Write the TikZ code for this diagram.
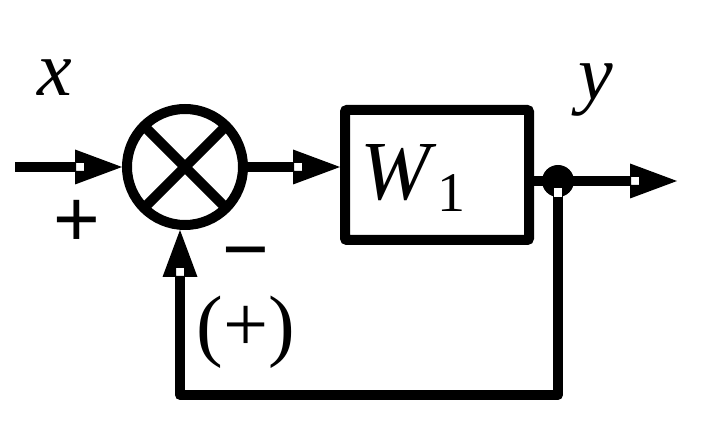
\documentclass[tikz,border=0pt]{standalone}
\usepackage{fontspec}
\setmainfont{Liberation Serif}
\newfontfamily\signfont{Liberation Sans}
\usetikzlibrary{positioning}

% filled triangle with a small square hole at its back
\pgfdeclarearrow{
  name = Holed,
  setup code = {
    \pgfarrowssettipend{0pt}
    \pgfarrowssetlineend{-46.5pt}
    \pgfarrowssetbackend{-47pt}
    \pgfarrowssetvisualbackend{-47pt}
    \pgfarrowshullpoint{0pt}{0pt}
    \pgfarrowsupperhullpoint{-47pt}{17.5pt}
  },
  drawing code = {
    \pgfpathmoveto{\pgfpointorigin}
    \pgfpathlineto{\pgfpoint{-47pt}{17.5pt}}
    \pgfpathlineto{\pgfpoint{-47pt}{-17.5pt}}
    \pgfpathclose
    \pgfpathrectanglecorners{\pgfpoint{-46pt}{-4pt}}{\pgfpoint{-38pt}{4pt}}
    \pgfseteorule
    \pgfusepathqfill
  }
}

\begin{document}
\begin{tikzpicture}[
        x=1pt, y=-1pt,
        line width=10pt,
        sumnode/.style = {shape=circle, draw, minimum size=116pt, inner sep=0pt,
                          path picture={\draw
                              (path picture bounding box.north west) -- (path picture bounding box.south east)
                              (path picture bounding box.north east) -- (path picture bounding box.south west);}},
        block/.style = {shape=rectangle, draw, minimum width=184pt,
                        minimum height=130pt, rounded corners=2pt},
        joint/.style = {shape=circle, fill, inner sep=0pt, minimum size=32pt, outer sep=0pt},
        flow/.style = {-{Holed}},
        lbl/.style = {inner sep=0pt, font=\fontsize{78}{78}\selectfont\itshape},
        sign/.style = {inner sep=0pt, font=\fontsize{80}{80}\selectfont\signfont}]
    \useasboundingbox (0,0) rectangle (716,430);

    \node[sumnode] (sum) at (185,167) {};
    \node[block, right=92pt of sum, yshift=-8pt] (w1) {};
    \node[inner sep=0pt, font=\fontsize{84}{84}\selectfont] (w1txt)
        at ([xshift=-24pt, yshift=-3pt]w1.center)
        {\textit{W}\raisebox{-12pt}{\fontsize{56}{56}\selectfont 1}};
    \node[joint, right=8pt of w1.east, yshift=-6pt] (split) {};

    \coordinate (in) at (15,167);
    \coordinate[right=103pt of split] (out);
    \coordinate (fb) at (180,395);

    \node[lbl] (xlab) at (55,78) {x};
    \node[lbl] (ylab) at (596,90) {y};
    \node[sign] (plus) at (77,223) {+};
    \node[sign, text height=26pt, text depth=0pt] (minus) at (246,264) {−};
    \node[inner sep=0pt, font=\fontsize{80}{80}\selectfont] (alt) at (246,332) {(+)};

    \draw[flow] (in) -- (sum);
    \draw[flow] (sum) -- (sum -| w1.west);
    \draw[flow] (w1.east |- split) -- (out);
    \draw[flow, line join=round] (split.center) -- (split |- fb) -- (fb) -- (fb |- sum.south);
    \fill[white] ([xshift=-4pt, yshift=-7pt]split.center) rectangle ++(8pt,-9pt);
\end{tikzpicture}
\end{document}
